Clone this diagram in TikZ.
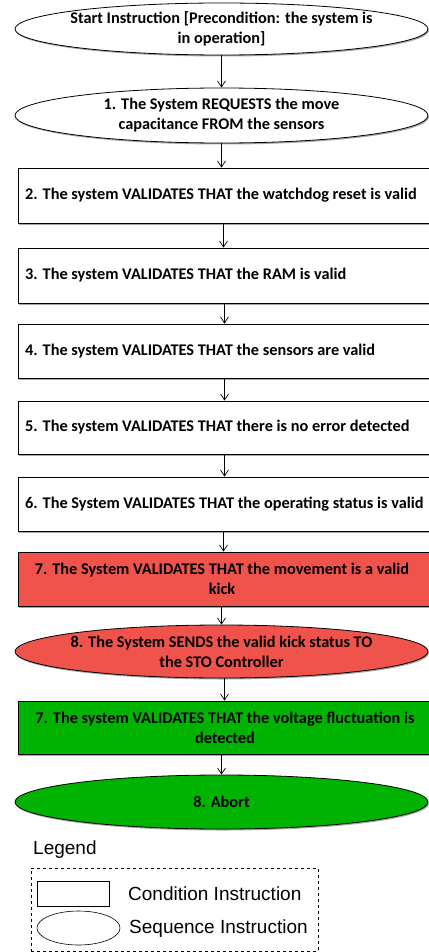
\documentclass[tikz,border=0pt]{standalone}
\usepackage{fontspec}
\setmainfont{Carlito}
\newfontfamily\legendfont{Liberation Sans}
\usetikzlibrary{arrows.meta,shapes.geometric,shadows}
\definecolor{redfill}{HTML}{EF534B}
\definecolor{greenfill}{HTML}{00B300}
\tikzset{
  x=1pt, y=-1pt,
  shade/.style={drop shadow={shadow xshift=1pt,shadow yshift=-1.5pt,opacity=0.35,fill=black}},
  ell/.style={ellipse, draw=black, line width=0.8pt, minimum width=413pt, inner sep=0pt, shade},
  rbox/.style={rectangle, draw=black, line width=0.8pt, minimum width=414pt, inner sep=0pt, shade},
  txt/.style={font=\bfseries\fontsize{16.3}{20}\selectfont, align=center, inner sep=0pt},
  ltxt/.style={font=\bfseries\fontsize{16.3}{20}\selectfont, anchor=west, inner sep=0pt},
  arr/.style={-{Straight Barb[length=6pt,width=8pt]}, line width=0.7pt},
  legtxt/.style={font=\legendfont\fontsize{19}{22}\selectfont, anchor=west, inner sep=0pt},
}
\begin{document}
\begin{tikzpicture}
\useasboundingbox (0,0) rectangle (428,952);
\fill[white] (0,0) rectangle (428,952);
% shapes
\node[ell, fill=white, minimum height=52pt] (e0) at (221.5,29) {};
\node[txt] (t0) at (221.5,29) {Start Instruction [Precondition: the system is\\in operation]};
\node[ell, fill=white, minimum height=55pt] (e1) at (221.5,115.5) {};
\node[txt] (t1) at (221.5,115.5) {1. The System REQUESTS the move\\capacitance FROM the sensors};
\node[rbox, fill=white, minimum height=55pt] (b2) at (225,195.5) {};
\node[ltxt] (t2) at (25,195.5) {2. The system VALIDATES THAT the watchdog reset is valid};
\node[rbox, fill=white, minimum height=55pt] (b3) at (225,275.5) {};
\node[ltxt] (t3) at (25,275.5) {3. The system VALIDATES THAT the RAM is valid};
\node[rbox, fill=white, minimum height=54pt] (b4) at (225,351) {};
\node[ltxt] (t4) at (25,351) {4. The system VALIDATES THAT the sensors are valid};
\node[rbox, fill=white, minimum height=53pt] (b5) at (225,427.5) {};
\node[ltxt] (t5) at (25,427.5) {5. The system VALIDATES THAT there is no error detected};
\node[rbox, fill=white, minimum height=54pt] (b6) at (225,504) {};
\node[ltxt] (t6) at (25,504) {6. The System VALIDATES THAT the operating status is valid};
\node[rbox, fill=redfill, minimum height=54pt] (b7) at (225,579) {};
\node[txt] (t7) at (222,579) {7. The System VALIDATES THAT the movement is a valid\\kick};
\node[ell, fill=redfill, minimum height=53pt] (e8) at (221.5,651.5) {};
\node[txt] (t8) at (221.5,651.5) {8. The System SENDS the valid kick status TO\\the STO Controller};
\node[rbox, fill=greenfill, minimum height=53pt] (g7) at (225,727.5) {};
\node[txt] (tg7) at (225,727.5) {7. The system VALIDATES THAT the voltage fluctuation is\\detected};
\node[ell, fill=greenfill, minimum height=54pt] (g8) at (221.5,802) {};
\node[txt] (tg8) at (221.5,802) {8. Abort};
% arrows
\draw[arr] (e0.south) -- (e0.south |- e1.north);
\draw[arr] (e1.south) -- (e1.south |- b2.north);
\draw[arr] (b2.south -| e1.south) ++(2,0) coordinate (a2) -- (a2 |- b3.north);
\draw[arr] (b3.south -| e1.south) ++(3,0) coordinate (a3) -- (a3 |- b4.north);
\draw[arr] (b4.south -| e1.south) ++(3,0) coordinate (a4) -- (a4 |- b5.north);
\draw[arr] (b5.south -| e1.south) ++(3,0) coordinate (a5) -- (a5 |- b6.north);
\draw[arr] (b6.south -| e1.south) ++(2,0) coordinate (a6) -- (a6 |- b7.north);
\draw[arr] (b7.south -| e1.south) coordinate (a7) -- (a7 |- e8.north);
\draw[arr] (e8.south) ++(3,0) coordinate (a8) -- (a8 |- g7.north);
\draw[arr] (g7.south -| e1.south) coordinate (a9) -- (a9 |- g8.north);
% legend
\node[legtxt] (lg) at (33,850) {Legend};
\node[draw=black, dashed, line width=0.6pt, minimum width=287pt, minimum height=83pt, inner sep=0pt] (lbox) at (174.5,909.5) {};
\node[draw=black, line width=0.6pt, minimum width=72pt, minimum height=25pt, inner sep=0pt] (lr) at (73,893.5) {};
\node[ellipse, draw=black, line width=0.6pt, minimum width=83pt, minimum height=34pt, inner sep=0pt] (le) at (78.5,928) {};
\node[legtxt] (lc) at (128,893.5) {Condition Instruction};
\node[legtxt] (ls) at (129,929) {Sequence Instruction};
\end{tikzpicture}
\end{document}
